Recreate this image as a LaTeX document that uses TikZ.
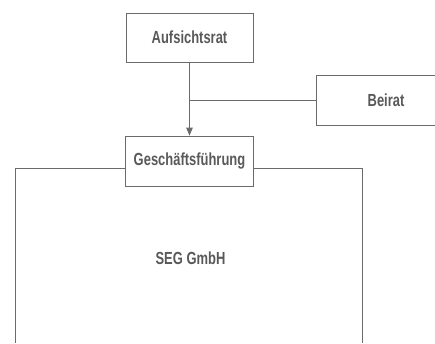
\documentclass[tikz,border=0pt]{standalone}
\usepackage{fontspec}
\setmainfont{Liberation Sans}[FakeStretch=0.74]
\usepackage{tikz}
\usetikzlibrary{positioning}
\usetikzlibrary{arrows}
\definecolor{orggray}{HTML}{6B6B6B}
\definecolor{txtgray}{HTML}{595959}
\tikzset{
  unit/.style={draw=orggray,line width=0.8pt,rectangle,minimum width=127pt,
               minimum height=49pt,inner sep=0pt,text=txtgray,
               font=\fontsize{17.5}{20}\selectfont\bfseries},
  link/.style={draw=orggray,line width=0.8pt}
}
\begin{document}
\begin{tikzpicture}[x=1pt,y=1pt,>=triangle 45,on grid]
   \clip (0,0) rectangle (435,343);
   \useasboundingbox (0,0) rectangle (435,343);
   \node[unit] (auf) at (189.5,305.5) {Aufsichtsrat};
   \node[unit,minimum width=140pt,minimum height=50pt] (beirat) at (386,243) {Beirat};
   \node[unit,minimum width=128pt,minimum height=50pt] (gf) [below=123.5pt of auf] {Geschäftsführung};
   \node[text=txtgray,font=\fontsize{17.5}{20}\selectfont\bfseries] (seg) at (190.5,85) {SEG GmbH};
   % Rahmen der SEG GmbH
   \coordinate (segl) at (15,0);
   \coordinate (segr) at (362,0);
   \draw[link,->] (auf.south) -- (auf.south |- gf.north);
   \draw[link] (beirat.west) -- (auf.south |- beirat.west);
   \draw[link] ([yshift=-7pt]gf.west) -| (segl);
   \draw[link] ([yshift=-7pt]gf.east) -| (segr);
\end{tikzpicture}
\end{document}
